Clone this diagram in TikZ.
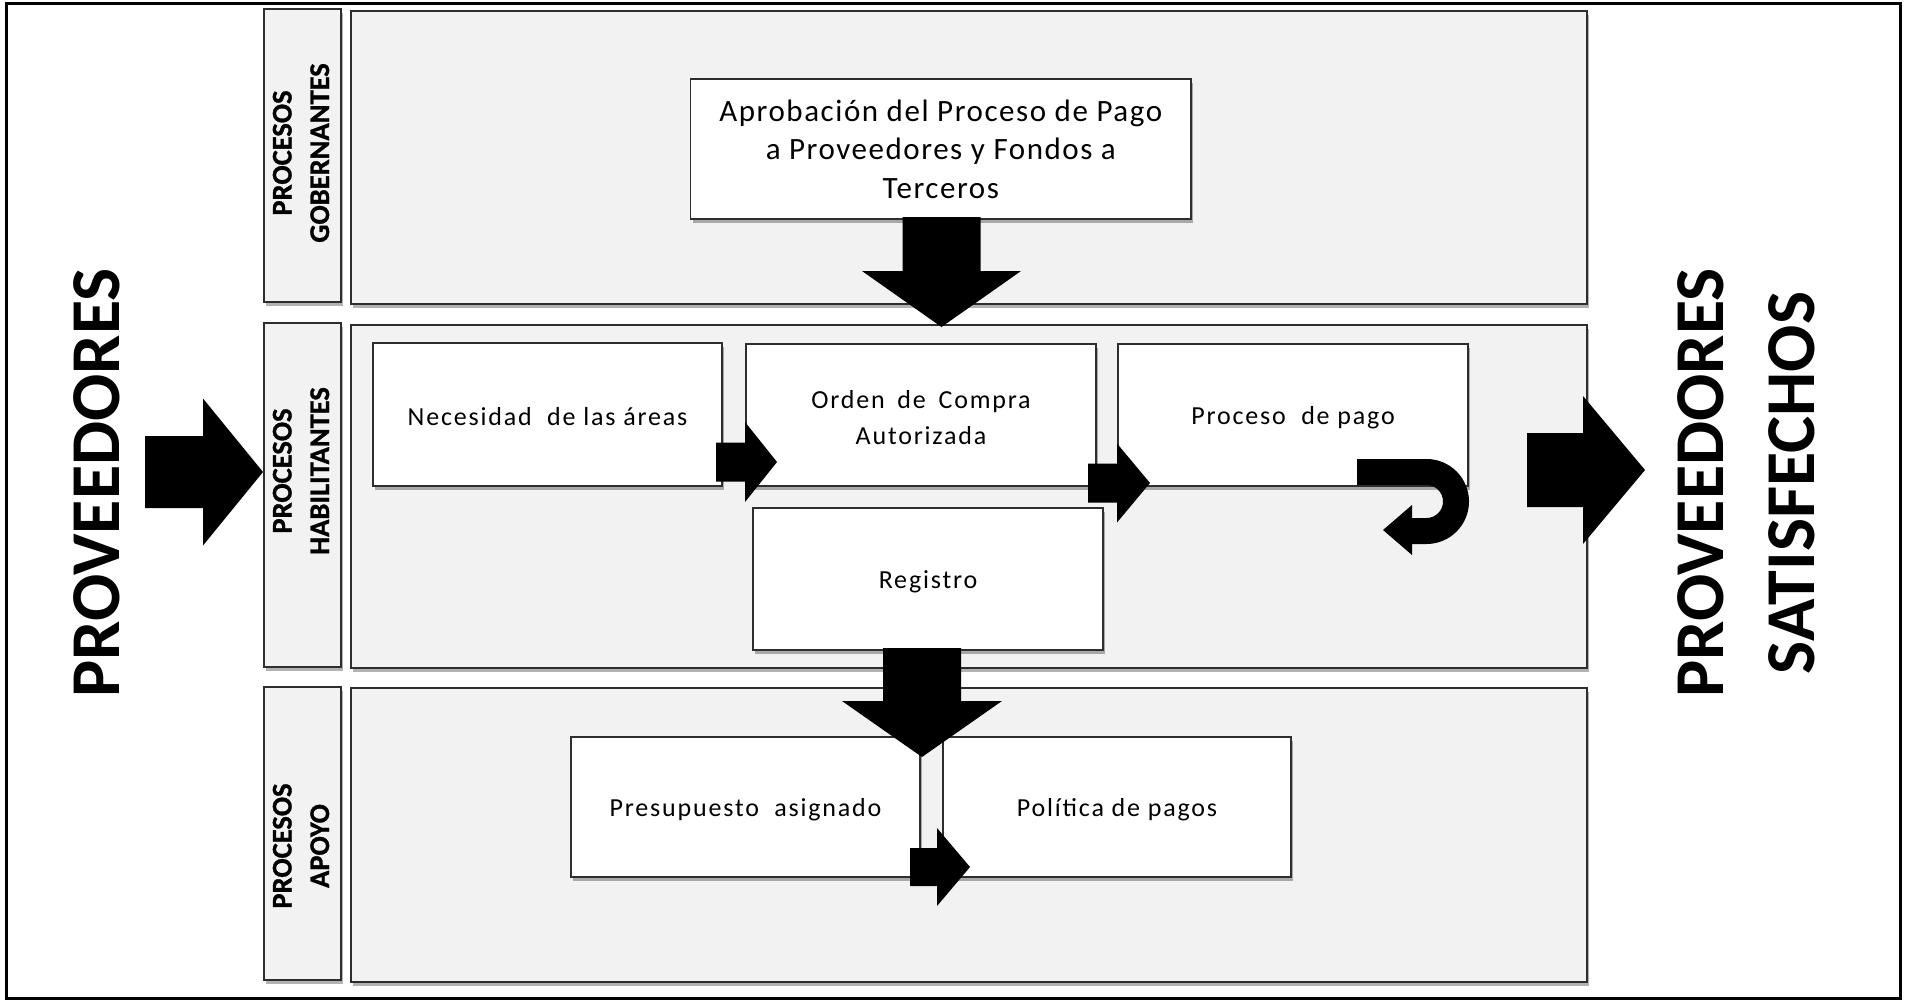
\documentclass[tikz,border=0pt]{standalone}
\usepackage{fontspec}
\setmainfont{Carlito}
\newfontfamily\boxfont[LetterSpace=7]{Carlito}
\newfontfamily\topfont[LetterSpace=5]{Carlito}
\newfontfamily\lanefont[BoldFeatures={FakeBold=1}]{Carlito}
\usetikzlibrary{shadows}
\definecolor{lanefill}{HTML}{F2F2F2}
\definecolor{edgegray}{HTML}{2E2E2E}

% block arrow: tip coordinate, angle, total length, head length, shaft half width, head half width
\newcommand{\blockarrow}[6]{%
  \fill[black, shift={#1}, rotate=#2]
    (0,0) -- (-#4,#6) -- (-#4,#5) -- (-#3,#5) -- (-#3,-#5) -- (-#4,-#5) -- (-#4,-#6) -- cycle;}

\tikzset{
  softshadow/.style={drop shadow={shadow xshift=2pt, shadow yshift=-3.5pt, opacity=0.3, fill=black}},
  lanebox/.style={draw=edgegray, line width=1.5pt, fill=lanefill, softshadow, inner sep=0pt},
  stepbox/.style={draw=edgegray, line width=1.5pt, fill=white, softshadow, inner sep=0pt},
  steptext/.style={align=center, inner sep=0pt, yshift=-2.5pt, font=\boxfont\fontsize{26}{35.5}\selectfont},
  lanetitle/.style={rotate=90, align=center, inner sep=0pt, font=\lanefont\bfseries\fontsize{28.5}{37.5}\selectfont},
  bigtitle/.style={rotate=90, align=center, inner sep=0pt, font=\bfseries\fontsize{70}{91}\selectfont},
}

\begin{document}
\begin{tikzpicture}[x=1pt, y=-1pt]
\useasboundingbox (0,0) rectangle (1910,1001);
\fill[white] (0,0) rectangle (1910,1001);
\draw[line width=3pt] (6,3) rectangle (1900,998);

% lane headers
\node[lanebox, minimum width=77, minimum height=293] (hgob) at (302.5,155.5) {};
\node[lanebox, minimum width=77, minimum height=344] (hhab) at (302.5,495) {};
\node[lanebox, minimum width=77, minimum height=293] (hapo) at (302.5,833.5) {};
\node[lanetitle] (tgob) at (301,153) {PROCESOS\\GOBERNANTES};
\node[lanetitle] (thab) at (301,471) {PROCESOS\\HABILITANTES};
\node[lanetitle] (tapo) at (301,846) {PROCESOS\\APOYO};

% lane bodies
\node[lanebox, minimum width=1236, minimum height=293] (lgob) at (969,157.5) {};
\node[lanebox, minimum width=1236, minimum height=343] (lhab) at (969,496.5) {};
\node[lanebox, minimum width=1236, minimum height=294] (lapo) at (969,835) {};

% process steps
\node[stepbox, minimum width=500.4, minimum height=140, align=center, inner sep=0pt,
      font=\topfont\fontsize{31}{38.5}\selectfont] (apro) at (940.8,149)
  {Aprobación del Proceso de Pago\\a Proveedores y Fondos a\\Terceros};
\node[stepbox, minimum width=349, minimum height=143,
      label={[steptext]center:Necesidad\ \ de las áreas}] (nec) at (547.5,414.5) {};
\node[stepbox, minimum width=350, minimum height=142,
      label={[steptext]center:{Orden\hspace{5pt} de\hspace{5pt} Compra\\Autorizada}}] (orden) at (921,415) {};
\node[stepbox, minimum width=350, minimum height=142,
      label={[steptext]center:Proceso\ \ de pago}] (pago) at (1293,415) {};
\node[stepbox, minimum width=350, minimum height=142,
      label={[steptext]center:Registro}] (reg) at (928,579) {};
\node[stepbox, minimum width=349, minimum height=140,
      label={[steptext]center:Presupuesto\ \ asignado}] (pres) at (745.5,807) {};
\node[stepbox, minimum width=348, minimum height=140,
      label={[steptext]center:Política de pagos}] (pol) at (1117,807) {};

% side titles
\node[bigtitle] (prov) at (97,483) {PROVEEDORES};
\node[bigtitle] (provsat) at (1746,483) {PROVEEDORES\\SATISFECHOS};

% arrow tips
\coordinate (tipin) at (263,472);
\coordinate (tipout) at (1645,470);
\coordinate (tipgob) at (941.5,327);
\coordinate (tipreg) at (922,757);
\coordinate (tipnec) at (777,462);
\coordinate (tiporden) at (1150,483);
\coordinate (tippres) at (970,867);

\blockarrow{(tipin)}{0}{118}{60}{36}{73.5}
\blockarrow{(tipout)}{0}{118}{62}{37}{74}
\blockarrow{(tipgob)}{-90}{110}{56}{39}{79.5}
\blockarrow{(tipreg)}{-90}{109}{56}{39}{80}
\blockarrow{(tipnec)}{0}{61}{32}{19.5}{40}
\blockarrow{(tiporden)}{0}{62}{33}{19.5}{39.5}
\blockarrow{(tippres)}{0}{60}{33}{19}{39}

% return arrow under the payment step
\fill[black]
  (1357,459) -- (1426.5,459)
  .. controls (1449.97,459) and (1469,478.03) .. (1469,501.5)
  .. controls (1469,524.97) and (1449.97,544) .. (1426.5,544)
  -- (1412,544) -- (1412,555) -- (1383,530) -- (1412,505) -- (1412,518) -- (1426.5,518)
  .. controls (1435.61,518) and (1443,510.61) .. (1443,501.5)
  .. controls (1443,492.39) and (1435.61,485) .. (1426.5,485)
  -- (1357,485) -- cycle;
\end{tikzpicture}
\end{document}
